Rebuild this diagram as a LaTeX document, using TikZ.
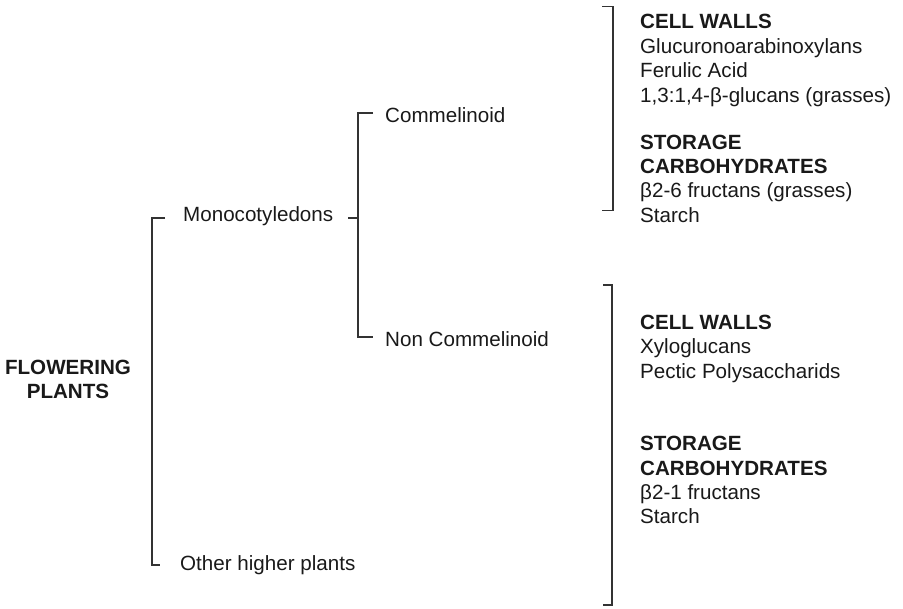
\documentclass[tikz,border=0pt]{standalone}
\usepackage{fontspec}
\setmainfont{Liberation Sans}
\begin{document}
\begin{tikzpicture}[x=1pt,y=-1pt,
  txt/.style={inner sep=0pt, text=black!90, font=\fontsize{20.6}{24.4}\selectfont},
  lbl/.style={txt, anchor=base west},
  blk/.style={txt, anchor=north west, align=left},
  br/.style={draw=black!80, line width=1.3pt}]
\useasboundingbox (0,0) rectangle (903,609);

% nodes
\node[txt, align=center, anchor=center] (fp) at (68,379.5) {\textbf{FLOWERING}\\\textbf{PLANTS}};
\node[lbl] (mono) at (183,222) {Monocotyledons};
\node[lbl] (other) at (180,571) {Other higher plants};
\node[lbl] (comm) at (385,123) {Commelinoid};
\node[lbl] (noncomm) at (385,347) {Non Commelinoid};

\node[blk] (b1) at (640,14.3) {\textbf{CELL WALLS}\\Glucuronoarabinoxylans\\Ferulic Acid\\1,3:1,4-β-glucans (grasses)\\[22.6pt]\textbf{STORAGE}\\\textbf{CARBOHYDRATES}\\β2-6 fructans (grasses)\\Starch};
\node[blk] (b2) at (640,315) {\textbf{CELL WALLS}\\Xyloglucans\\Pectic Polysaccharids\\[48pt]\textbf{STORAGE}\\\textbf{CARBOHYDRATES}\\β2-1 fructans\\Starch};

% flowering plants bracket
\draw[br] ([shift={(-18pt,4pt)}]mono.base west) -- ++(-13pt,0) |- ([shift={(-20pt,6pt)}]other.base west);

% monocot bracket
\coordinate (cv) at ([shift={(-27pt,10pt)}]comm.base west);
\draw[br] ([shift={(-12pt,10pt)}]comm.base west) -- (cv) |- ([shift={(-12pt,10pt)}]noncomm.base west);
\draw[br] ([shift={(15pt,4pt)}]mono.base east) coordinate (mt) -- (mt -| cv);

% right brackets
\draw[br] ([shift={(-38pt,7.5pt)}]b1.north west) -- ++(11pt,0) -- ++(0,-204pt) -- ++(-11pt,0);
\draw[br] ([shift={(-37pt,30pt)}]b2.north west) -- ++(9pt,0) -- ++(0,-320pt) -- ++(-9pt,0);
\end{tikzpicture}
\end{document}
